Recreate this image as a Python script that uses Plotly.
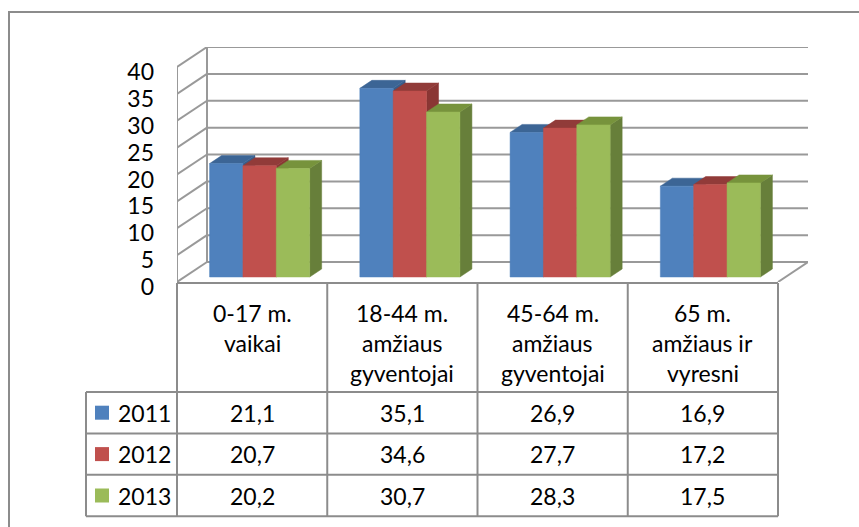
import plotly.graph_objects as go

# ---------------- data ----------------
categories = ["0-17 m.\nvaikai", "18-44 m.\namžiaus\ngyventojai",
              "45-64 m.\namžiaus\ngyventojai", "65 m.\namžiaus ir\nvyresni"]
years = ["2011", "2012", "2013"]
v2011 = [21.1, 35.1, 26.9, 16.9]
v2012 = [20.7, 34.6, 27.7, 17.2]
v2013 = [20.2, 30.7, 28.3, 17.5]
y_ticks = [0, 5, 10, 15, 20, 25, 30, 35, 40]
series = [v2011, v2012, v2013]

# ---------------- style ----------------
front_colors = ["#4F81BD", "#C0504D", "#9BBB59"]
top_colors = ["#3C6595", "#913B39", "#77933C"]
side_colors = ["#385D8A", "#8A3634", "#677F3A"]
GRID = "#999999"
TABLE_LINE = "#8C8C8C"
FONT = "Lato"
FS = 23

W, H = 859, 527
PL, PR, PT, PB = 177, 808, 47, 282      # plot area in pixels
DEPTH_PX_X, DEPTH_PX_Y = 30, 20          # oblique depth offset of the back wall
N = len(categories)
YMAX = y_ticks[-1]
cat_px = (PR - PL - DEPTH_PX_X) / N
unit_px = (PB - PT - DEPTH_PX_Y) / YMAX
DX = DEPTH_PX_X / cat_px
DY = DEPTH_PX_Y / unit_px
BAR_W = 0.222
Z0, DZ = 0.25, 0.4


def proj(x, y, z):
    return x + z * DX, y + z * DY


def pxx(p):
    return (p - PL) / (PR - PL)


def pxy(p):
    return (PB - p) / (PB - PT)


fig = go.Figure()

# ---------------- walls / grid ----------------
gx, gy = [], []
for v in y_ticks:
    a = proj(-0.5, v, 1); b = proj(N - 0.5, v, 1)
    gx += [a[0], b[0], None]; gy += [a[1], b[1], None]
    a = proj(-0.5, v, 0); b = proj(-0.5, v, 1)
    gx += [a[0], b[0], None]; gy += [a[1], b[1], None]
for (p, q) in [((-0.5, 0, 1), (-0.5, YMAX, 1)),
               ((N - 0.5, 0, 0), (N - 0.5, 0, 1)),
               ((-0.5, 0, 0), (-0.5, YMAX, 0))]:
    a = proj(*p); b = proj(*q)
    gx += [a[0], b[0], None]; gy += [a[1], b[1], None]
fig.add_trace(go.Scatter(x=gx, y=gy, mode="lines", line=dict(color=GRID, width=2),
                         hoverinfo="skip", showlegend=False, cliponaxis=False))

# ---------------- 3D bars ----------------
for s, vals in enumerate(series):
    faces = {"side": ([], []), "top": ([], []), "front": ([], [])}
    for i, v in enumerate(vals):
        x0 = i + (s - 1.5) * BAR_W
        x1 = x0 + BAR_W
        polys = {
            "front": [proj(x0, 0, Z0), proj(x1, 0, Z0), proj(x1, v, Z0), proj(x0, v, Z0)],
            "top": [proj(x0, v, Z0), proj(x1, v, Z0), proj(x1, v, Z0 + DZ), proj(x0, v, Z0 + DZ)],
            "side": [proj(x1, 0, Z0), proj(x1, 0, Z0 + DZ), proj(x1, v, Z0 + DZ), proj(x1, v, Z0)],
        }
        for k, pts in polys.items():
            xs, ys = faces[k]
            xs += [p[0] for p in pts] + [pts[0][0], None]
            ys += [p[1] for p in pts] + [pts[0][1], None]
    for k, col in [("side", side_colors[s]), ("top", top_colors[s]), ("front", front_colors[s])]:
        xs, ys = faces[k]
        fig.add_trace(go.Scatter(x=xs, y=ys, mode="lines", fill="toself", fillcolor=col,
                                 line=dict(color=col, width=0.5), hoverinfo="skip",
                                 showlegend=False, cliponaxis=False, name=years[s]))

# ---------------- data table ----------------
TABLE_TOP = PB + 1
HEADER_BOTTOM = 392
ROW_H = 41.4
LEG_LEFT = 86
col_edges = [PL + k * cat_px for k in range(N + 1)]
row_edges = [HEADER_BOTTOM + r * ROW_H for r in range(len(years) + 1)]

shapes = []
def line(x0, y0, x1, y1, color=TABLE_LINE, w=2):
    shapes.append(dict(type="line", xref="paper", yref="paper",
                       x0=pxx(x0), y0=pxy(y0), x1=pxx(x1), y1=pxy(y1),
                       line=dict(color=color, width=w)))

for xe in col_edges:
    line(xe, TABLE_TOP, xe, row_edges[-1])
line(PL, TABLE_TOP, col_edges[-1], TABLE_TOP)
for ye in row_edges:
    line(LEG_LEFT, ye, col_edges[-1], ye)
line(LEG_LEFT, row_edges[0], LEG_LEFT, row_edges[-1])

# outer chart border
shapes.append(dict(type="rect", xref="paper", yref="paper",
                   x0=pxx(9), y0=pxy(12), x1=pxx(W + 20), y1=pxy(H + 20),
                   line=dict(color="#8C8C8C", width=2), layer="below"))

annotations = []
LINE_STEP = 30
for i, cat in enumerate(categories):
    cx = (col_edges[i] + col_edges[i + 1]) / 2
    for j, t in enumerate(cat.split("\n")):
        annotations.append(dict(x=pxx(cx), y=pxy(TABLE_TOP + 30 + j * LINE_STEP),
                                xref="paper", yref="paper", text=t, showarrow=False,
                                xanchor="center", yanchor="middle",
                                font=dict(family=FONT, size=FS, color="black")))

for r, (yr, vals) in enumerate(zip(years, series)):
    cy = (row_edges[r] + row_edges[r + 1]) / 2
    shapes.append(dict(type="rect", xref="paper", yref="paper",
                       x0=pxx(95), x1=pxx(109), y0=pxy(cy - 7), y1=pxy(cy + 7),
                       fillcolor=front_colors[r], line=dict(width=0)))
    annotations.append(dict(x=pxx(116), y=pxy(cy), xref="paper", yref="paper",
                            text=yr, showarrow=False, xanchor="left", yanchor="middle",
                            font=dict(family=FONT, size=FS, color="black")))
    for i, v in enumerate(vals):
        cx = (col_edges[i] + col_edges[i + 1]) / 2
        annotations.append(dict(x=pxx(cx), y=pxy(cy), xref="paper", yref="paper",
                                text=f"{v:.1f}".replace(".", ","), showarrow=False,
                                xanchor="center", yanchor="middle",
                                font=dict(family=FONT, size=FS, color="black")))

fig.update_layout(
    width=W, height=H, autosize=False,
    margin=dict(l=PL, r=W - PR, t=PT, b=H - PB, pad=0),
    paper_bgcolor="white", plot_bgcolor="white",
    showlegend=False,
    shapes=shapes, annotations=annotations,
    xaxis=dict(range=[-0.5, N - 0.5 + DX], showgrid=False, zeroline=False,
               showticklabels=False, showline=False, ticks="", fixedrange=True),
    yaxis=dict(range=[0, YMAX + DY], tickvals=y_ticks, ticktext=[str(t) for t in y_ticks],
               showgrid=False, zeroline=False, showline=False, ticks="",
               ticklabelstandoff=22, ticklabelshift=5,
               tickfont=dict(family=FONT, size=FS, color="black"),
               fixedrange=True),
)

fig.write_html("out.html", config={"displayModeBar": False},
               post_script="document.body.style.margin='0';document.body.style.padding='0';")
